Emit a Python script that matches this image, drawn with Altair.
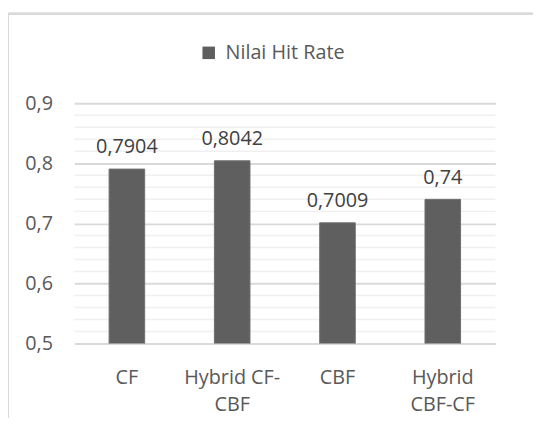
import altair as alt
import pandas as pd

categories = ["CF", "Hybrid CF-CBF", "CBF", "Hybrid CBF-CF"]
hit_rate = [0.7904, 0.8042, 0.7009, 0.74]
series_name = "Nilai Hit Rate"
major_ticks = [0.5, 0.6, 0.7, 0.8, 0.9]
minor_ticks = [0.52, 0.54, 0.56, 0.58, 0.62, 0.64, 0.66, 0.68,
               0.72, 0.74, 0.76, 0.78, 0.82, 0.84, 0.86, 0.88]

FONT = "Open Sans"
TXT = "#595959"

df = pd.DataFrame({"cat": categories, "val": hit_rate, "series": series_name})
minor_df = pd.DataFrame({"v": minor_ticks})

yscale = alt.Scale(domain=[0.5, 0.9], nice=False, zero=False)

label_expr = (
    "datum.label == 'Hybrid CF-CBF' ? ['Hybrid CF-', 'CBF'] : "
    "datum.label == 'Hybrid CBF-CF' ? ['Hybrid', 'CBF-CF'] : datum.label"
)

minor = alt.Chart(minor_df).mark_rule(color="#f0f0f0", strokeWidth=1.5).encode(
    y=alt.Y("v:Q", scale=yscale)
)

bars = alt.Chart(df).mark_bar(stroke="#6f6f6f", strokeWidth=1, clip=True).encode(
    x=alt.X(
        "cat:N",
        sort=categories,
        scale=alt.Scale(paddingInner=0.662, paddingOuter=0.331),
        axis=alt.Axis(
            title=None, labelAngle=0, domain=False, ticks=False,
            labelPadding=24, labelExpr=label_expr, labelLineHeight=28,
            labelFontSize=20, labelFont=FONT, labelColor=TXT,
        ),
    ),
    y=alt.Y(
        "val:Q",
        scale=yscale,
        axis=alt.Axis(
            title=None, values=major_ticks, domain=False, ticks=False,
            labelPadding=22, labelFontSize=20, labelFont=FONT, labelColor=TXT,
            labelExpr="replace(format(datum.value, '.1f'), '.', ',')",
            grid=True, gridColor="#d9d9d9", gridWidth=2,
        ),
    ),
    color=alt.Color(
        "series:N",
        scale=alt.Scale(domain=[series_name], range=["#5f5f5f"]),
        legend=alt.Legend(
            title=None, orient="none", legendX=126, legendY=-61,
            symbolType="square", symbolSize=160, symbolStrokeWidth=0,
            labelFontSize=20, labelFont=FONT, labelColor=TXT,
            labelOffset=7, padding=0,
        ),
    ),
)

labels = alt.Chart(df).transform_calculate(
    lbl="replace(toString(datum.val), '.', ',')"
).mark_text(
    baseline="alphabetic", dy=-16, fontSize=20, font=FONT, color="#404040"
).encode(
    x=alt.X("cat:N", sort=categories),
    y=alt.Y("val:Q", scale=yscale),
    text="lbl:N",
)

frame_left = alt.Chart(df).mark_rule(color="#d9d9d9", strokeWidth=2).encode(
    x=alt.value(-67), y=alt.value(-91), y2=alt.value(330)
)
frame_top = alt.Chart(df).mark_rule(color="#d9d9d9", strokeWidth=2).encode(
    x=alt.value(-68), x2=alt.value(470), y=alt.value(-90.5)
)

chart = alt.layer(minor, bars, labels, frame_left, frame_top).properties(
    width=426, height=243,
    autosize=alt.AutoSizeParams(type="none"),
    padding={"left": 67, "top": 94, "right": 38, "bottom": 73},
).configure_view(stroke=None)

chart.save("out.html", embed_options={"renderer": "svg", "actions": False})
